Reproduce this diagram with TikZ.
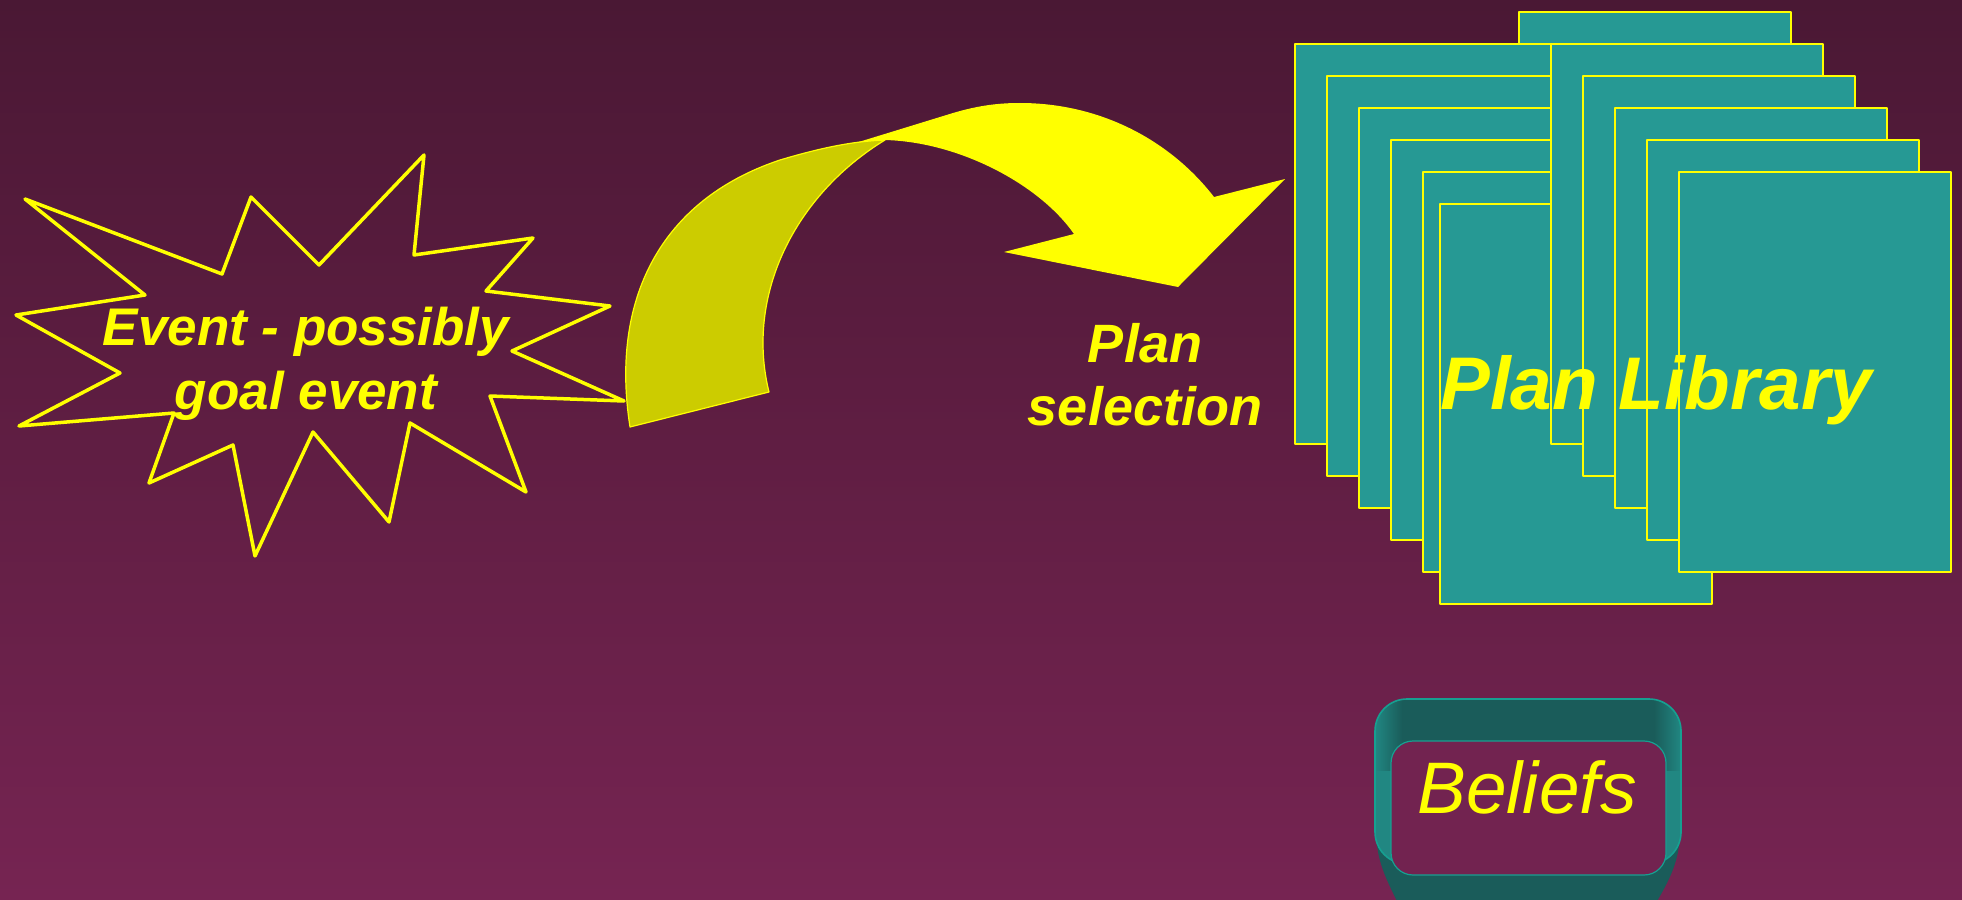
\documentclass[tikz,border=0pt]{standalone}
\usepackage{fontspec}
\setmainfont{Liberation Sans}
\definecolor{bgtop}{RGB}{74,24,52}
\definecolor{bgbot}{RGB}{118,36,82}
\definecolor{bginner}{RGB}{114,35,80}
\definecolor{ppyellow}{RGB}{255,255,0}
\definecolor{plangreen}{RGB}{38,153,148}
\definecolor{tailyellow}{RGB}{204,204,0}
\definecolor{beliefdark}{RGB}{26,92,90}
\definecolor{beliefwall}{RGB}{33,135,130}
\definecolor{beliefedge}{RGB}{22,160,145}
\tikzset{
	card/.style={fill=plangreen, draw=ppyellow, line width=1pt},
	yelltext/.style={text=ppyellow, inner sep=0pt, align=center}
}
\begin{document}
\begin{tikzpicture}[x=.5pt, y=-.5pt, line join=round]
			\useasboundingbox (0,0) rectangle (1962,899);
			\clip (0,0) rectangle (1962,899);
			\shade[top color=bgtop, bottom color=bgbot] (0,0) rectangle (1962,899);
			% event star
			\draw[ppyellow, line width=1.75pt] (25,199) -- (222,274) -- (251,197) -- (319,265) -- (424,155) -- (414,255) -- (533,238) -- (486,291) -- (610,306) -- (512,351) -- (624,401) -- (490,396) -- (526,492) -- (410,423) -- (389,522) -- (313,432) -- (255,556) -- (233,445) -- (149,483) -- (174,413) -- (19,426) -- (120,373) -- (16,315) -- (145,295) -- cycle;
			\node[yelltext, font=\fontsize{26.5}{32}\selectfont\bfseries\itshape] (event) at (306,364) {Event - possibly\\goal event};
			% selection arrow
			\fill[ppyellow] (735,180) -- (953,113) .. controls (980,105) and (1000,103) .. (1020,103) .. controls (1100,103) and (1170,140) .. (1214,197) -- (1285,179) -- (1178,287) -- (1004,252) -- (1074,234) .. controls (1040,185) and (960,142) .. (885,140) -- cycle;
			\filldraw[fill=tailyellow, draw=ppyellow, line width=.6pt] (630,427) .. controls (610,300) and (660,200) .. (780,160) .. controls (830,145) and (860,141) .. (885,140) .. controls (795,195) and (745,295) .. (769,392) -- cycle;
			\node[yelltext, font=\fontsize{27}{31.5}\selectfont\bfseries\itshape] (select) at (1145,375) {Plan\\selection};
			% plan library
			\foreach \x/\y in {1519/12,1295/44,1327/76,1359/108,1391/140,1423/172,1440/204,1551/44,1583/76,1615/108,1647/140,1679/172}
				\filldraw[card] (\x,\y) rectangle +(272,400);
			\node[yelltext, font=\fontsize{37.3}{46}\selectfont\bfseries\itshape, anchor=base] (library) at (1656,409) {Plan Library};
			% beliefs tray
			\fill[beliefdark] (1376,830) -- (1680,830) .. controls (1680,865) and (1666,885) .. (1652,910) -- (1401,910) .. controls (1390,885) and (1376,865) .. (1376,830) -- cycle;
			\begin{scope}
				\clip[rounded corners=16pt] (1375,699) rectangle (1681,864);
				\fill[beliefwall] (1375,699) rectangle (1681,864);
				\fill[beliefdark] (1402,699) rectangle (1654,770);
				\shade[left color=beliefwall, right color=beliefdark] (1375,699) rectangle (1402,770);
				\shade[left color=beliefdark, right color=beliefwall] (1654,699) rectangle (1681,770);
			\end{scope}
			\draw[beliefedge, line width=.8pt, rounded corners=16pt] (1375,699) rectangle (1681,864);
			\filldraw[fill=bginner, draw=beliefedge, line width=.6pt, rounded corners=11pt] (1391,741) rectangle (1666,875);
			\node[yelltext, font=\fontsize{36.5}{44}\selectfont\itshape, anchor=base] (beliefs) at (1527,813) {Beliefs};
\end{tikzpicture}
\end{document}
